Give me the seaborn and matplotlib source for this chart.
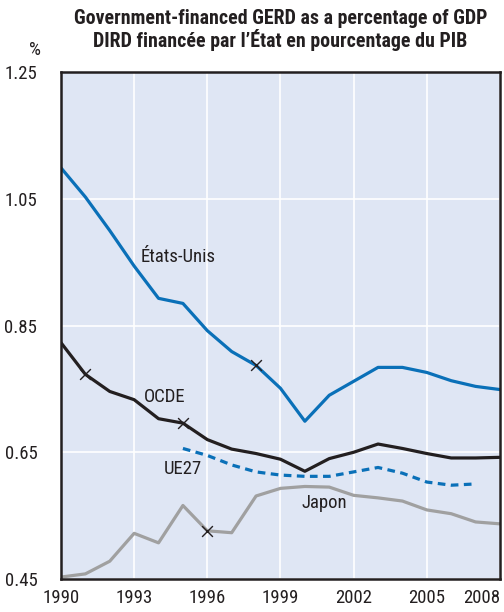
import matplotlib
matplotlib.use('Agg')
import matplotlib.pyplot as plt
from matplotlib import font_manager
import seaborn as sns
import pandas as pd

# données
annees = list(range(1990, 2009))
etats_unis = [1.099, 1.053, 1.000, 0.944, 0.893, 0.885, 0.842, 0.809, 0.787, 0.751,
              0.699, 0.740, 0.762, 0.784, 0.784, 0.776, 0.763, 0.754, 0.749]
ocde = [0.823, 0.773, 0.746, 0.733, 0.703, 0.696, 0.670, 0.655, 0.648, 0.639,
        0.620, 0.640, 0.650, 0.663, 0.656, 0.648, 0.641, 0.641, 0.642]
annees_ue = list(range(1995, 2008))
ue27 = [0.656, 0.645, 0.630, 0.619, 0.614, 0.612, 0.612, 0.619, 0.626, 0.617,
        0.603, 0.598, 0.600]
japon = [0.453, 0.458, 0.478, 0.522, 0.507, 0.566, 0.526, 0.523, 0.581, 0.593,
         0.596, 0.595, 0.582, 0.578, 0.573, 0.559, 0.553, 0.540, 0.537]

# ruptures de série (marquées par une croix)
ruptures = {'OCDE': [1991, 1995], 'États-Unis': [1998], 'Japon': [1996]}

x_ticks = [1990, 1993, 1996, 1999, 2002, 2005, 2008]
y_ticks = [0.45, 0.65, 0.85, 1.05, 1.25]

bleu = '#0A70B8'
noir = '#231F20'
gris = '#A0A0A0'

# police étroite si disponible
noms = {f.name for f in font_manager.fontManager.ttflist}
police, taille = 'DejaVu Sans', 11
for nom, t in [('Liberation Sans Narrow', 13.5), ('Roboto Condensed', 13.5),
               ('DejaVu Sans Condensed', 11.5), ('Roboto', 12)]:
    if nom in noms:
        police, taille = nom, t
        break

sns.set_style('white')
plt.rcParams['font.family'] = [police, 'DejaVu Sans']

df = pd.DataFrame({'annee': annees, 'États-Unis': etats_unis, 'OCDE': ocde, 'Japon': japon})
df_ue = pd.DataFrame({'annee': annees_ue, 'UE27': ue27})

fig = plt.figure(figsize=(5.04, 6.12), dpi=100)
ax = fig.add_axes([0.121, 0.054, 0.871, 0.828])
ax.set_facecolor('#DFE6F4')

lw = 2.3
sns.lineplot(data=df, x='annee', y='Japon', color=gris, linewidth=lw, ax=ax)
sns.lineplot(data=df_ue, x='annee', y='UE27', color=bleu, linewidth=lw,
             linestyle=(0, (2.4, 1.7)), ax=ax)
sns.lineplot(data=df, x='annee', y='OCDE', color=noir, linewidth=lw, ax=ax)
sns.lineplot(data=df, x='annee', y='États-Unis', color=bleu, linewidth=lw, ax=ax)

for nom, ans in ruptures.items():
    vals = df.set_index('annee').loc[ans, nom]
    ax.scatter(ans, vals, marker='x', s=60, color=noir, linewidths=1.0, zorder=5)

ax.set_xlim(1990, 2008)
ax.set_ylim(0.45, 1.25)
ax.set_xticks(x_ticks)
ax.set_yticks(y_ticks)
ax.set_xticklabels([str(a) for a in x_ticks], fontsize=taille)
ax.set_yticklabels(['%.2f' % v for v in y_ticks], fontsize=taille)
ax.get_xticklabels()[-1].set_horizontalalignment('right')
ax.grid(True, color='white', linewidth=1.2)
ax.set_axisbelow(True)
ax.tick_params(axis='x', direction='in', length=6, width=1, color=noir, pad=7, labelcolor=noir)
ax.tick_params(axis='y', direction='in', length=6, width=1, color=noir, pad=17, labelcolor=noir)
for s in ax.spines.values():
    s.set_color(noir)
    s.set_linewidth(1.8)
ax.set_xlabel('')
ax.set_ylabel('')

ax.text(1993.25, 0.958, 'États-Unis', fontsize=taille, color=noir, va='center')
ax.text(1993.4, 0.737, 'OCDE', fontsize=taille, color=noir, va='center')
ax.text(1994.2, 0.623, 'UE27', fontsize=taille, color=noir, va='center')
ax.text(1999.85, 0.570, 'Japon', fontsize=taille, color=noir, va='center')

fig.text(0.07, 0.91, '%', fontsize=taille, color=noir, ha='center')
fig.text(0.556, 0.969, 'Government-financed GERD as a percentage of GDP',
         fontsize=taille + 0.8, fontweight='bold', ha='center', va='center', color=noir)
fig.text(0.556, 0.934, "DIRD financée par l’État en pourcentage du PIB",
         fontsize=taille + 0.8, fontweight='bold', ha='center', va='center', color=noir)

fig.savefig('out.png', dpi=100)
